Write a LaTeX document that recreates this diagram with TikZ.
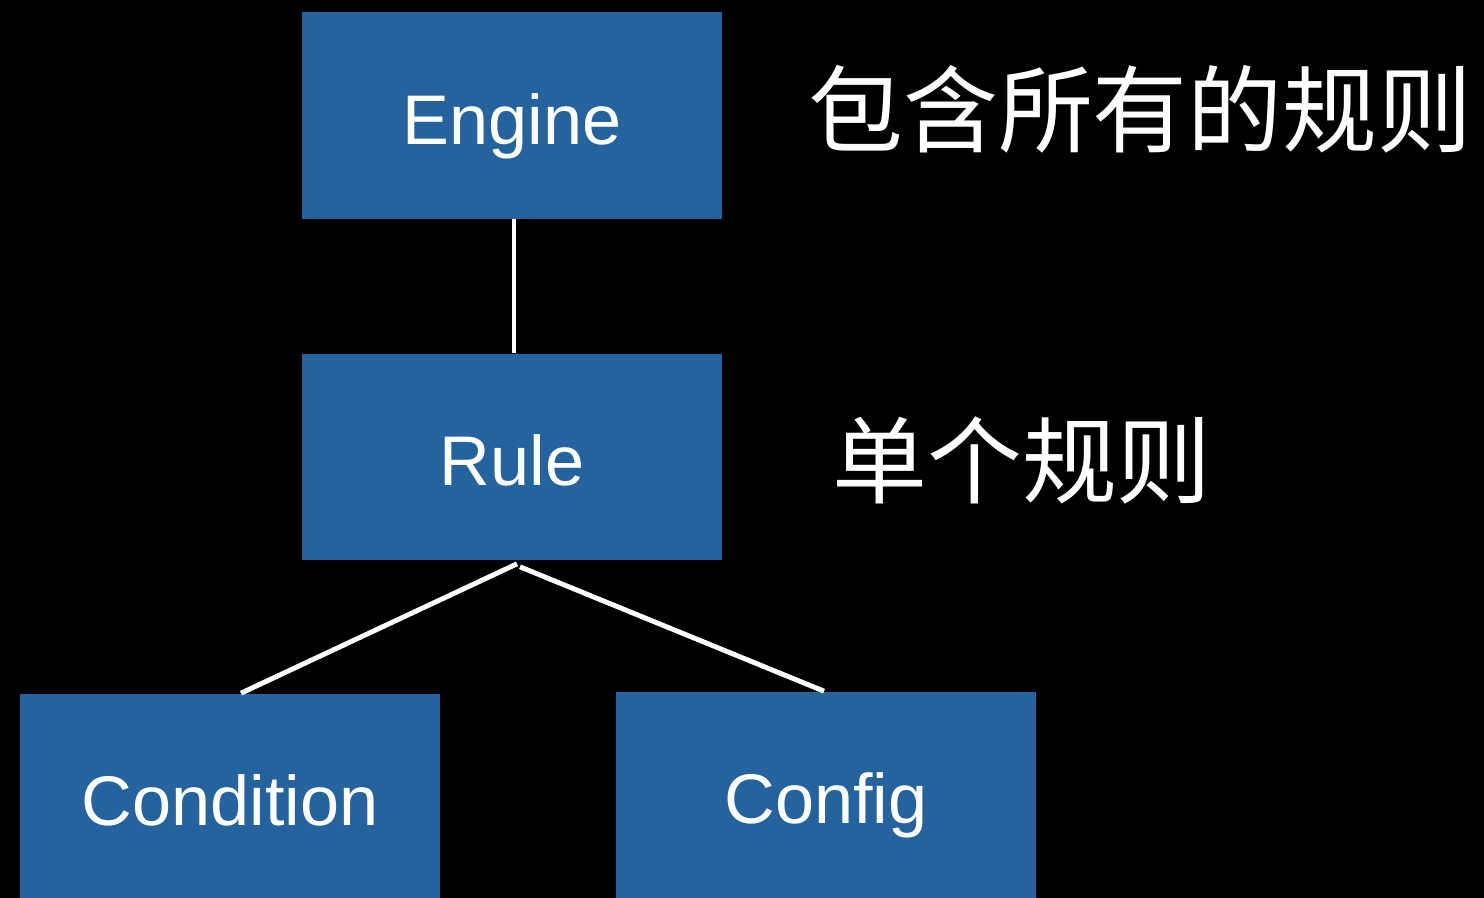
\documentclass[tikz,border=0pt]{standalone}
\usepackage{fontspec}
\setmainfont{Liberation Sans}
\newfontfamily\cjk{Noto Sans CJK SC}
\definecolor{boxblue}{RGB}{36,99,158}
\begin{document}
\begin{tikzpicture}[x=0.02cm, y=-0.02cm,
    bloco/.style={fill=boxblue, rectangle, inner sep=0pt, minimum width=8.4cm, minimum height=4.14cm,
        text=white, font=\fontsize{40}{40}\selectfont, text height=33pt, text depth=0pt},
    nota/.style={text=white, inner sep=0pt, anchor=base west, font=\cjk\fontsize{54}{54}\selectfont},
    liga/.style={draw=white, line width=2.8pt}]

% background
\fill[black] (0,0) rectangle (1484,898);
\useasboundingbox (0,0) rectangle (1484,898);

% Engine
\node[bloco] (engine) at (512,115.5) {Engine};
\node[nota] (todas) at (808,146) {包含所有的规则};

% Rule
\node[bloco] (rule) at (512,457) {Rule};
\node[nota] (uma) at (832,496) {单个规则};
\draw[liga] ([xshift=0.04cm]engine.south) -- ([xshift=0.04cm]rule.north);

% Condition and Config
\node[bloco] (cond) at (230,797) {Condition};
\node[bloco] (conf) at (826,795) {Config};
\draw[liga] ([xshift=0.1cm, yshift=-0.06cm]rule.south) -- ([xshift=0.22cm]cond.north);
\draw[liga] ([xshift=0.16cm, yshift=-0.12cm]rule.south) -- ([xshift=-0.04cm]conf.north);
\end{tikzpicture}
\end{document}
